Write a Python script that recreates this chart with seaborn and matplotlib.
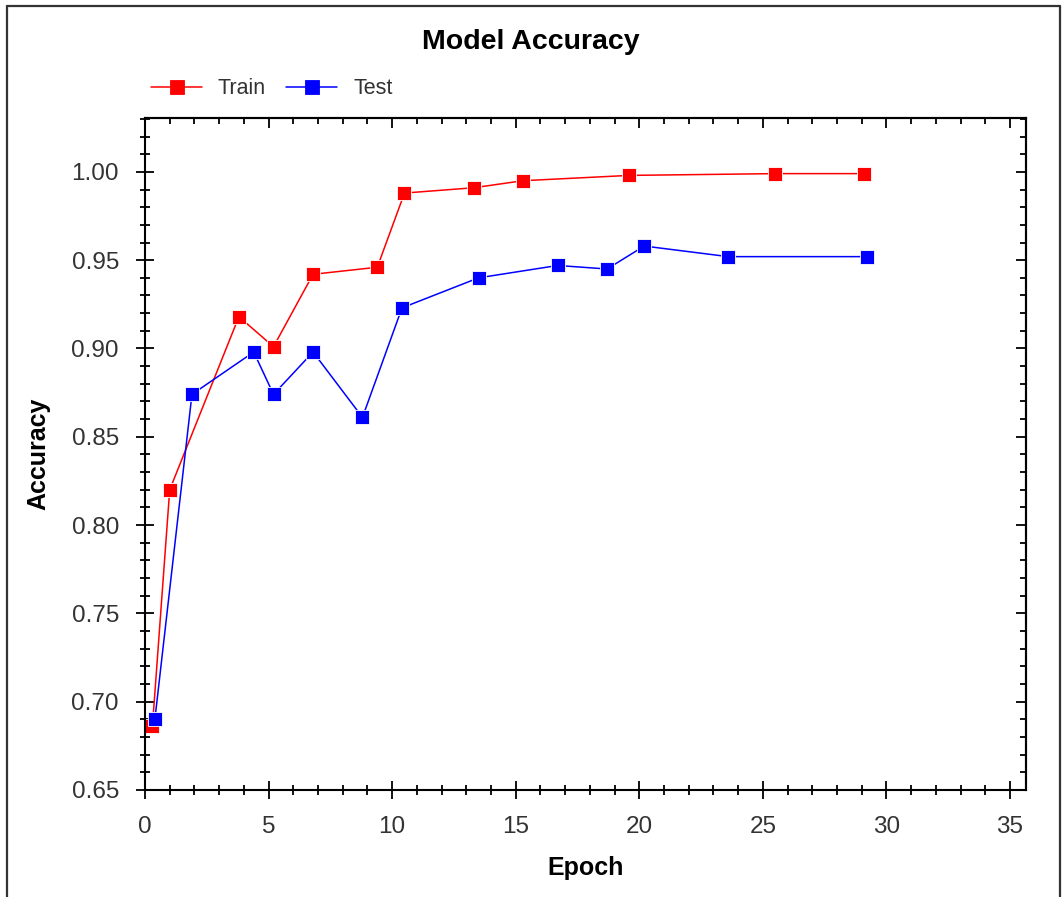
import numpy as np
import pandas as pd
import matplotlib
matplotlib.use("Agg")
import matplotlib.pyplot as plt
from matplotlib.lines import Line2D
from matplotlib.ticker import MultipleLocator
import seaborn as sns

# values
train_epoch = [0.3, 1.0, 3.8, 5.2, 6.8, 9.4, 10.5, 13.3, 15.3, 19.6, 25.5, 29.1]
train_acc = [0.686, 0.820, 0.918, 0.901, 0.942, 0.946, 0.988, 0.991, 0.995, 0.998, 0.999, 0.999]
test_epoch = [0.4, 1.9, 4.4, 5.2, 6.8, 8.8, 10.4, 13.5, 16.7, 18.7, 20.2, 23.6, 29.2]
test_acc = [0.690, 0.874, 0.898, 0.874, 0.898, 0.861, 0.923, 0.940, 0.947, 0.945, 0.958, 0.952, 0.952]
series_names = ["Train", "Test"]
series_colors = {"Train": "#ff0000", "Test": "#0000ff"}

df = pd.concat([
    pd.DataFrame({"Epoch": train_epoch, "Accuracy": train_acc, "Set": "Train"}),
    pd.DataFrame({"Epoch": test_epoch, "Accuracy": test_acc, "Set": "Test"}),
])

sns.set_theme(style="white")
plt.rcParams['font.family'] = ['Liberation Sans', 'DejaVu Sans']

W, H = 1062, 897
fig = plt.figure(figsize=(W / 100, H / 100), dpi=100)
ax = fig.add_axes([145 / W, 1 - 790 / H, (1026 - 145) / W, (790 - 118) / H])

sns.lineplot(data=df, x="Epoch", y="Accuracy", hue="Set", style="Set",
             hue_order=series_names, style_order=series_names,
             markers={"Train": "s", "Test": "s"}, dashes=False,
             palette=series_colors, estimator=None, sort=False,
             linewidth=1.1, markersize=10, markeredgewidth=0.6, ax=ax, legend=False)

ax.set_xlim(0, 35.65)
ax.set_ylim(0.65, 1.0305)
ax.xaxis.set_major_locator(MultipleLocator(5))
ax.xaxis.set_minor_locator(MultipleLocator(1))
ax.yaxis.set_major_locator(MultipleLocator(0.05))
ax.yaxis.set_minor_locator(MultipleLocator(0.01))
ax.yaxis.set_major_formatter(matplotlib.ticker.FormatStrFormatter("%.2f"))

for s in ax.spines.values():
    s.set_color("black")
    s.set_linewidth(1.5)

ax.tick_params(which="both", direction="inout", color="black", width=1.3,
               bottom=True, left=True, labelsize=17.5, labelcolor="#333333", pad=12)
ax.tick_params(which="major", length=13.5)
ax.tick_params(which="minor", length=7)

# mirrored inward ticks on top and right
top = ax.secondary_xaxis("top")
right = ax.secondary_yaxis("right")
top.xaxis.set_major_locator(MultipleLocator(5))
top.xaxis.set_minor_locator(MultipleLocator(1))
right.yaxis.set_major_locator(MultipleLocator(0.05))
right.yaxis.set_minor_locator(MultipleLocator(0.01))
for sec in (top, right):
    sec.tick_params(which="both", direction="in", color="black", width=1.3,
                    labelleft=False, labelright=False, labeltop=False, labelbottom=False)
    sec.tick_params(which="major", length=7)
    sec.tick_params(which="minor", length=4.3)
    for s in sec.spines.values():
        s.set_linewidth(1.5)

ax.set_xlabel("Epoch", fontsize=18, fontweight="bold", color="black")
ax.set_ylabel("Accuracy", fontsize=18, fontweight="bold", color="black")
ax.xaxis.set_label_coords(0.5, (790 - 856) / (790 - 118))
ax.yaxis.set_label_coords((50 - 145) / (1026 - 145), 0.5)

fig.text(0.5, 1 - 42 / H, "Model Accuracy", ha="center", va="center",
         fontsize=20.5, fontweight="bold", color="black")

handles = [Line2D([], [], color=series_colors[n], marker="s", markersize=10.5, lw=1.1,
                  markeredgewidth=0.6) for n in series_names]
fig.legend(handles, series_names, loc="center left", bbox_to_anchor=(151 / W, 1 - 89 / H),
           ncol=2, frameon=False, fontsize=15.5, borderpad=0, borderaxespad=0,
           handlelength=2.37, handletextpad=0.74, columnspacing=0.93, labelcolor="#333333")

# outer frame of the picture
frame_kw = dict(color="#333333", lw=1.6, transform=fig.transFigure)
fig.add_artist(Line2D([7 / W, 1060 / W], [1 - 6 / H, 1 - 6 / H], **frame_kw))
fig.add_artist(Line2D([7 / W, 7 / W], [0, 1 - 6 / H], **frame_kw))
fig.add_artist(Line2D([1060 / W, 1060 / W], [0, 1 - 6 / H], **frame_kw))

fig.savefig("out.png", dpi=100, facecolor="white")
